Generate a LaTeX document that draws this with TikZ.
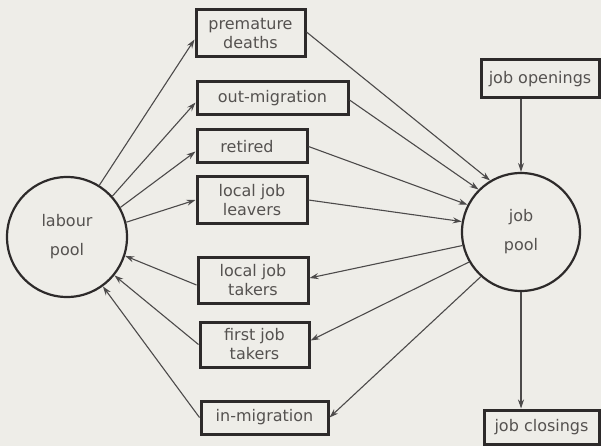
\documentclass[tikz,border=0pt]{standalone}
\usepackage{fontspec}
\setmainfont{DejaVu Sans}
\usetikzlibrary{arrows.meta}
\definecolor{bg}{RGB}{238,237,232}
\definecolor{ink}{RGB}{45,42,42}
\definecolor{txt}{RGB}{85,82,80}
\begin{document}
\begin{tikzpicture}[x=1pt,y=-1pt,
  box/.style={draw=ink,line width=3pt,inner sep=0pt,align=center,
    font=\fontsize{16}{19}\selectfont,text=txt},
  pool/.style={draw=ink,circle,line width=2.2pt,inner sep=0pt,align=center,
    font=\fontsize{16}{29}\selectfont,text=txt},
  conn/.style={draw=ink!85,line width=1.1pt,-{Stealth[length=9pt,width=6pt]}}]
\fill[bg] (0,0) rectangle (601,446);
\useasboundingbox (0,0) rectangle (601,446);
% pools
\node[pool,minimum size=120pt] (lp) at (67,237) {labour\\pool};
\node[pool,minimum size=118pt] (jp) at (521,232) {job\\pool};
% boxes
\node[box,minimum width=109pt,minimum height=47pt] (pd) at (250.5,33.5) {premature\\deaths};
\node[box,minimum width=151pt,minimum height=33pt] (om) at (272.5,98.5) {out-migration};
\node[box,minimum width=110pt,minimum height=33pt] (ret) at (252,146.5) {retired\hspace*{10pt}};
\node[box,minimum width=110pt,minimum height=46pt] (ljl) at (252,200) {local job\\leavers};
\node[box,minimum width=110pt,minimum height=46pt] (ljt) at (253,280) {local job\\takers};
\node[box,minimum width=109pt,minimum height=45pt] (fjt) at (254.5,344.5) {first job\\takers};
\node[box,minimum width=127pt,minimum height=33pt] (im) at (264.5,417.5) {in-migration};
\node[box,minimum width=118pt,minimum height=38pt] (jo) at (540,79) {job openings};
\node[box,minimum width=115pt,minimum height=34pt] (jc) at (541.5,427) {job closings};
% labour pool to exit boxes
\draw[conn] (lp.58) -- ([yshift=-6pt]pd.west);
\draw[conn] (lp.42) -- ([yshift=-4pt]om.west);
\draw[conn] (lp.29) -- ([yshift=-5pt]ret.west);
\draw[conn] (lp.14) -- (ljl.west);
% exit boxes to job pool
\draw[conn] ([yshift=1.5pt]pd.east) -- (jp.121);
\draw[conn] ([yshift=-1.5pt]om.east) -- (jp.135);
\draw[conn] (ret.east) -- (jp.153);
\draw[conn] (ljl.east) -- (jp.170);
% job pool to entry boxes
\draw[conn] (jp.193) -- ([yshift=2pt]ljt.east);
\draw[conn] (jp.210) -- ([yshift=4pt]fjt.east);
\draw[conn] (jp.228) -- (im.east);
% entry boxes to labour pool
\draw[conn] ([yshift=-5pt]ljt.west) -- (lp.-18);
\draw[conn] (fjt.west) -- (lp.-39);
\draw[conn] (im.west) -- (lp.-54);
% openings and closings
\draw[conn] (jp.north |- jo.south) -- (jp.north);
\draw[conn] (jp.south) -- (jp.south |- jc.north);
\end{tikzpicture}
\end{document}
